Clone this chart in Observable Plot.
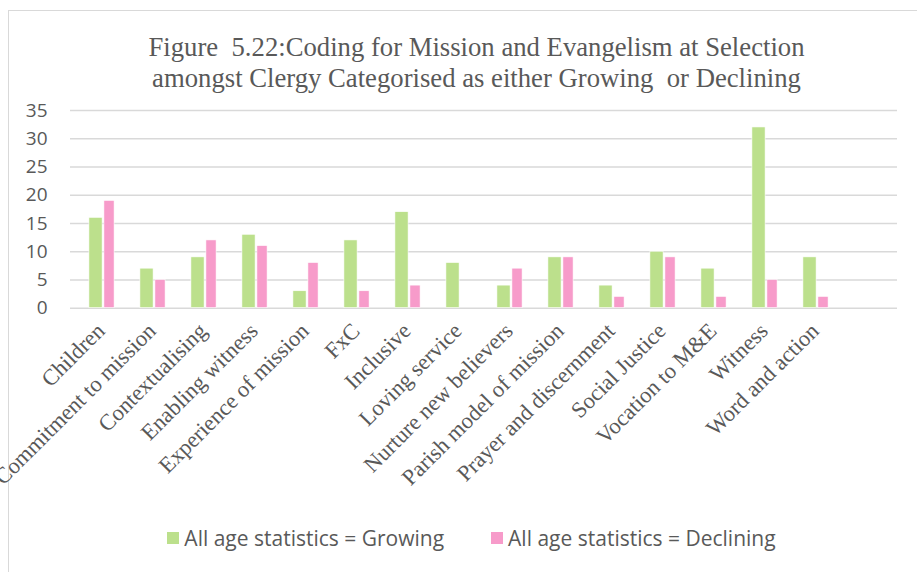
<!DOCTYPE html>
<html>
<head>
<meta charset="utf-8">
<script src="https://cdn.jsdelivr.net/npm/d3@7"></script>
<script src="https://cdn.jsdelivr.net/npm/@observablehq/plot@0.6"></script>
<style>
  body { margin: 0; background: #fff; }
  #wrap { position: relative; width: 917px; height: 572px; overflow: hidden; background: #fff; }
  #frame { position: absolute; left: 8px; top: 10px; width: 1000px; height: 700px; border-top: 1.5px solid #d9d9d9; border-left: 1.5px solid #d9d9d9; }
  #title { position: absolute; left: 0; top: 32px; width: 953px; text-align: center; font-family: "Liberation Serif", serif; font-size: 26.7px; line-height: 31px; color: #595959; white-space: pre; }
  #chart { position: absolute; left: 0; top: 95px; }
  #legend { position: absolute; left: 13px; top: 524px; width: 917px; display: flex; justify-content: center; gap: 47px; font-family: "Open Sans", sans-serif; font-size: 21px; color: #595959; }
  .item { display: flex; align-items: center; gap: 5px; }
  .sw { width: 12px; height: 12px; display: inline-block; }
</style>
</head>
<body>
<div id="wrap">
  <div id="frame"></div>
  <div id="title"></div>
  <div id="chart"></div>
  <div id="legend"></div>
</div>
<script>
const titleLines = [
  "Figure  5.22:Coding for Mission and Evangelism at Selection",
  "amongst Clergy Categorised as either Growing  or Declining"
];
const categories = [
  "Children", "Commitment to mission", "Contextualising", "Enabling witness",
  "Experience of mission", "FxC", "Inclusive", "Loving service",
  "Nurture new believers", "Parish model of mission", "Prayer and discernment",
  "Social Justice", "Vocation to M&E", "Witness", "Word and action", ""
];
const growing =   [16, 7, 9, 13, 3, 12, 17, 8, 4, 9, 4, 10, 7, 32, 9];
const declining = [19, 5, 12, 11, 8, 3, 4, 0, 7, 9, 2, 9, 2, 5, 2];
const seriesNames = ["All age statistics = Growing", "All age statistics = Declining"];
const seriesColors = ["#bce08c", "#f79bca"];
const yTicks = [0, 5, 10, 15, 20, 25, 30, 35];

document.getElementById("title").textContent = titleLines.join("\n");

const growRows = growing.map((v, i) => ({category: categories[i], value: v}));
const declRows = declining.map((v, i) => ({category: categories[i], value: v}));

const chart = Plot.plot({
  width: 917,
  height: 400,
  marginLeft: 70,
  marginRight: 20,
  marginTop: 15,
  marginBottom: 187.3,
  style: {background: "transparent", overflow: "visible"},
  x: {domain: categories, padding: 0, axis: null},
  y: {domain: [0, 35], axis: null},
  marks: [
    Plot.ruleY(yTicks, {stroke: "#d9d9d9", strokeWidth: 1.5}),
    Plot.barY(growRows, {x: "category", y: "value", fill: seriesColors[0], stroke: "#fff", strokeWidth: 0.6, insetLeft: 12.9, insetRight: 24.9}),
    Plot.barY(declRows, {x: "category", y: "value", fill: seriesColors[1], stroke: "#fff", strokeWidth: 0.6, insetLeft: 27.9, insetRight: 12.9}),
    Plot.axisY(yTicks, {tickSize: 0, tickPadding: 23, fontSize: 19, fontFamily: "Open Sans", fill: "#595959", label: null}),
    Plot.axisX({tickRotate: -45, tickSize: 0, tickPadding: 8, dx: -1, dy: 11, fontSize: 22.5, fontFamily: "Liberation Serif", fill: "#595959", label: null})
  ]
});
document.getElementById("chart").appendChild(chart);

const legend = document.getElementById("legend");
seriesNames.forEach((name, i) => {
  const item = document.createElement("div");
  item.className = "item";
  const sw = document.createElement("span");
  sw.className = "sw";
  sw.style.background = seriesColors[i];
  const t = document.createElement("span");
  t.textContent = name;
  item.appendChild(sw);
  item.appendChild(t);
  legend.appendChild(item);
});
</script>
</body>
</html>
